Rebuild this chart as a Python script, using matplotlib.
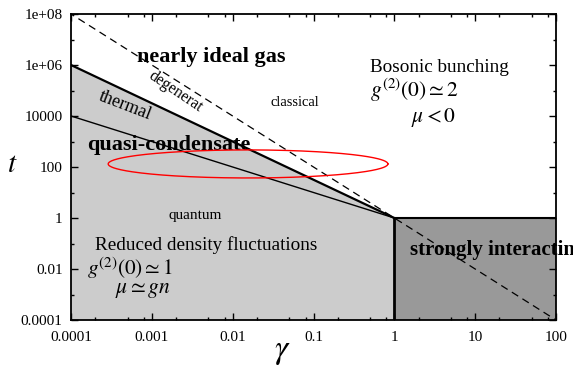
import numpy as np
import matplotlib
matplotlib.use("Agg")
import matplotlib.pyplot as plt
from matplotlib.ticker import LogLocator, FixedLocator, FixedFormatter, NullFormatter

plt.rcParams['font.family'] = ['Liberation Serif', 'DejaVu Serif']
plt.rcParams['mathtext.fontset'] = 'stix'

# ---- data ----
gamma_range = [1e-4, 1e2]
t_range = [1e-4, 1e8]
# crossover lines t(gamma) = gamma**exponent, all meeting at (1, 1)
deg_exponent = -1.5      # thick line: degeneracy temperature
thermal_exponent = -1.0  # thin line: thermal / quantum fluctuations
dashed_exponent = -2.0   # dashed line
gamma_line = [1e-4, 1.0]
gamma_dashed = [1e-4, 1e2]
# ellipse (log-space centre and half-axes)
ell_center = (-1.81, 2.12)
ell_radii = (1.73, 0.55)

xtick_vals = [1e-4, 1e-3, 1e-2, 1e-1, 1, 10, 100]
xtick_labels = ['0.0001', '0.001', '0.01', '0.1', '1', '10', '100']
ytick_vals = [1e-4, 1e-2, 1, 1e2, 1e4, 1e6, 1e8]
ytick_labels = ['0.0001', '0.01', '1', '100', '10000', '1e+06', '1e+08']

fig = plt.figure(figsize=(5.73, 3.71), dpi=100)
ax = fig.add_axes([71/573, 1-320/371, (556-71)/573, (320-14)/371])
ax.set_xscale('log')
ax.set_yscale('log')
ax.set_xlim(*gamma_range)
ax.set_ylim(*t_range)

# light grey region below thick line
gx = np.array(gamma_line)
gt = gx ** deg_exponent
poly_x = [gamma_range[0]] + list(gx) + [gx[-1]]
poly_y = [t_range[0]] + list(gt) + [t_range[0]]
ax.fill(poly_x, poly_y, color='#cccccc', lw=0, zorder=1)
# dark grey strongly interacting region
ax.fill([1, gamma_range[1], gamma_range[1], 1], [t_range[0], t_range[0], 1, 1],
        color='#999999', lw=0, zorder=1)
ax.plot([1, gamma_range[1]], [1, 1], color='black', lw=1.5, zorder=3)
ax.plot([1, 1], [t_range[0], 1], color='black', lw=2, zorder=3)

# lines
ax.plot(gx, gt, color='black', lw=1.6, zorder=3)
ax.plot(gx, gx ** thermal_exponent, color='black', lw=1.0, zorder=3)
gd = np.array(gamma_dashed)
ax.plot(gd, gd ** dashed_exponent, color='black', lw=0.9, ls=(3, (6, 4)), zorder=3)

# ellipse
th = np.linspace(0, 2*np.pi, 300)
ex = 10 ** (ell_center[0] + ell_radii[0]*np.cos(th))
ey = 10 ** (ell_center[1] + ell_radii[1]*np.sin(th))
ax.plot(ex, ey, color='red', lw=1.0, zorder=4)

# ticks
ax.xaxis.set_major_locator(FixedLocator(xtick_vals))
ax.xaxis.set_major_formatter(FixedFormatter(xtick_labels))
ax.xaxis.set_minor_locator(LogLocator(base=10, subs=[2, 5, 8]))
ax.xaxis.set_minor_formatter(NullFormatter())
ax.yaxis.set_major_locator(FixedLocator(ytick_vals))
ax.yaxis.set_major_formatter(FixedFormatter(ytick_labels))
ax.yaxis.set_minor_locator(FixedLocator([1e-3, 1e-1, 10, 1e3, 1e5, 1e7]))
ax.yaxis.set_minor_formatter(NullFormatter())
ax.tick_params(which='both', direction='in', top=True, right=True, labelsize=11)
ax.tick_params(which='major', length=5, width=1)
ax.tick_params(which='minor', length=2.5, width=1)
ax.tick_params(axis='x', pad=8)
ax.tick_params(axis='y', pad=6)
for s in ax.spines.values():
    s.set_linewidth(1.3)
    s.set_zorder(5)

ax.set_xlabel(r'$\gamma$', fontsize=24)
ax.xaxis.set_label_coords(0.435, -0.055)
ax.set_ylabel(r'$t$', fontsize=21, rotation=0, va='center')
ax.yaxis.set_label_coords(-0.12, 0.505)

# annotations
ax.text(6.6e-4, 2.0e6, 'nearly ideal gas', fontsize=16, fontweight='bold', ha='left', va='center')
ax.text(1.94e-3, 8.7e4, 'degenerat', fontsize=11.5, rotation=-34, ha='center', va='center')
ax.text(0.059, 3.5e4, 'classical', fontsize=10.5, ha='center', va='center')
ax.text(0.50, 8.3e5, 'Bosonic bunching', fontsize=13.8, ha='left', va='center')
ax.text(0.50, 1.05e5, r'$g^{(2)}(0)\simeq 2$', fontsize=15.5, ha='left', va='center')
ax.text(1.61, 9.1e3, r'$\mu<0$', fontsize=15.5, ha='left', va='center')
ax.text(4.7e-4, 2.5e4, 'thermal', fontsize=13, rotation=-21, ha='center', va='center')
ax.text(1.58e-4, 720, 'quasi-condensate', fontsize=16, fontweight='bold', ha='left', va='center', zorder=3.5)
ax.text(3.4e-3, 1.3, 'quantum', fontsize=11, ha='center', va='center')
ax.text(2e-4, 0.087, 'Reduced density fluctuations', fontsize=13.8, ha='left', va='center')
ax.text(1.58e-4, 0.011, r'$g^{(2)}(0)\simeq 1$', fontsize=15.3, ha='left', va='center')
ax.text(3.5e-4, 1.5e-3, r'$\mu\simeq gn$', fontsize=15.5, ha='left', va='center')
ax.text(1.57, 0.056, 'strongly interacting', fontsize=15, fontweight='bold', ha='left', va='center', clip_on=False)

fig.savefig('out.png', dpi=100)
